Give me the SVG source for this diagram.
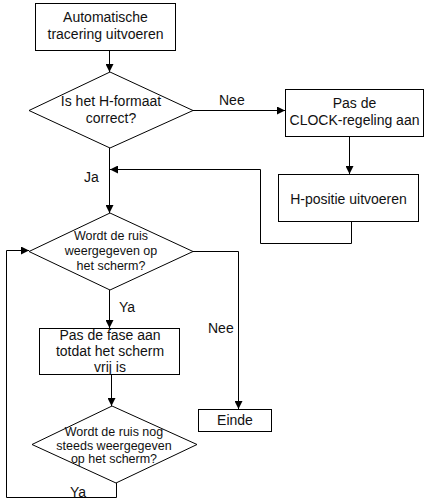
<svg xmlns="http://www.w3.org/2000/svg" width="424" height="500" viewBox="0 0 424 500">
<defs>
<marker id="arr" viewBox="0 0 10 10" refX="10" refY="5" markerWidth="8" markerHeight="8" markerUnits="userSpaceOnUse" orient="auto">
<path d="M0,0 L10,5 L0,10 z" fill="#000"/>
</marker>
<style>
.n{fill:#fff;stroke:#000;stroke-width:1}
.c{fill:none;stroke:#000;stroke-width:1}
text{font-family:"Liberation Sans",Arial,sans-serif;font-size:14px;fill:#111}
.m{text-anchor:middle}
.s{font-size:12.5px}
</style>
</defs>
<g id="connectors">
<path class="c" d="M109.5,51 V72" marker-end="url(#arr)"/>
<path class="c" d="M193,110.5 H285" marker-end="url(#arr)"/>
<path class="c" d="M349.5,137 V174" marker-end="url(#arr)"/>
<path class="c" d="M351.5,222 V243.5 H260.5 V169.5 H110" marker-end="url(#arr)"/>
<path class="c" d="M109.5,148 V213" marker-end="url(#arr)"/>
<path class="c" d="M193,251.5 H238.5 V409" marker-end="url(#arr)"/>
<path class="c" d="M109.5,290 V328" marker-end="url(#arr)"/>
<path class="c" d="M111.5,375 V406" marker-end="url(#arr)"/>
<path class="c" d="M116.5,483 V497.5 H6.5 V250.5 H29" marker-end="url(#arr)"/>
<text x="219" y="105">Nee</text>
<text x="84" y="182">Ja</text>
<text x="119" y="312">Ya</text>
<text x="208" y="333">Nee</text>
<text x="70" y="497">Ya</text>
</g>
<g id="n1">
<rect class="n" x="35.5" y="3.5" width="140" height="47"/>
<text class="m" x="105.5" y="22">Automatische</text>
<text class="m" x="105.5" y="39">tracering uitvoeren</text>
</g>
<g id="n2">
<polygon class="n" points="110,72 193,110.5 110,148 29,110.5"/>
<text class="m" x="111" y="106">Is het H-formaat</text>
<text class="m" x="111" y="123">correct?</text>
</g>
<g id="n3">
<rect class="n" x="285.5" y="89.5" width="138" height="47"/>
<text class="m" x="354.5" y="108">Pas de</text>
<text class="m" x="354.5" y="125">CLOCK-regeling aan</text>
</g>
<g id="n4">
<rect class="n" x="278.5" y="174.5" width="140" height="47"/>
<text class="m" x="348.5" y="204">H-positie uitvoeren</text>
</g>
<g id="n5">
<polygon class="n" points="110,213 193,251.5 110,290 29,251.5"/>
<text class="m s" x="111" y="240">Wordt de ruis</text>
<text class="m s" x="111" y="255">weergegeven op</text>
<text class="m s" x="111" y="270">het scherm?</text>
</g>
<g id="n6">
<rect class="n" x="39.5" y="328.5" width="140" height="46"/>
<text class="m" x="110" y="340">Pas de fase aan</text>
<text class="m" x="110" y="356">totdat het scherm</text>
<text class="m" x="110" y="372">vrij is</text>
</g>
<g id="n7">
<rect class="n" x="198.5" y="409.5" width="73" height="22"/>
<text class="m" x="235" y="425">Einde</text>
</g>
<g id="n8">
<polygon class="n" points="112,406 197,444.5 116,483 32,444.5"/>
<text class="m s" x="114" y="436">Wordt de ruis nog</text>
<text class="m s" x="114" y="449.5">steeds weergegeven</text>
<text class="m s" x="114" y="463">op het scherm?</text>
</g>
</svg>
